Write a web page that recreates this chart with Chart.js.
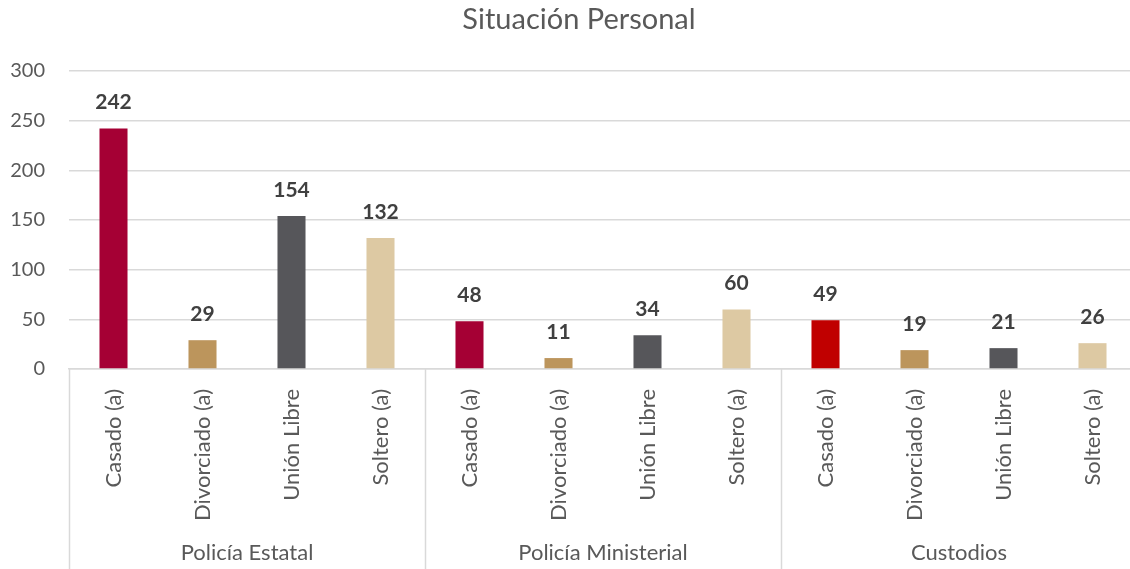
<!DOCTYPE html>
<html>
<head>
<meta charset="utf-8">
<script src="https://cdn.jsdelivr.net/npm/chart.js@4/dist/chart.umd.min.js"></script>
<style>
  html, body { margin: 0; padding: 0; background: #fff; overflow: hidden; }
  #wrap { position: absolute; left: 0; top: 0; width: 1137px; height: 569px; }
</style>
</head>
<body>
<div id="wrap"><canvas id="barChart" width="1137" height="569"></canvas></div>
<script>
const titulo = "Situación Personal"
const grupos = ["Policía Estatal", "Policía Ministerial", "Custodios"]
const estados = ["Casado (a)", "Divorciado (a)", "Unión Libre", "Soltero (a)"]
const estatal = [242, 29, 154, 132]
const ministerial = [48, 11, 34, 60]
const custodios = [49, 19, 21, 26]
const yTicks = [0, 50, 100, 150, 200, 250, 300]

const coloresEstatal = ["#A50034", "#BC955C", "#56565A", "#DDC9A3"]
const coloresCustodios = ["#C00000", "#BC955C", "#56565A", "#DDC9A3"]

const labels = [].concat(estados, estados, estados)
const valores = [].concat(estatal, ministerial, custodios)
const colores = [].concat(coloresEstatal, coloresEstatal, coloresCustodios)

const fuente = "Lato, 'Open Sans', sans-serif"
const gris = "#595959"
const lineaGris = "#d9d9d9"

// etiquetas encima de cada barra
const valoresPlugin = {
    id: "valores",
    afterDatasetsDraw(chart) {
        const ctx = chart.ctx
        const meta = chart.getDatasetMeta(0)
        ctx.save()
        ctx.font = "bold 21px " + fuente
        ctx.fillStyle = "#404040"
        ctx.textAlign = "center"
        ctx.textBaseline = "middle"
        meta.data.forEach((bar, i) => {
            ctx.fillText(valores[i], bar.x, bar.y - 26)
        })
        ctx.restore()
    }
}

// título, separadores y nombres de grupo
const gruposPlugin = {
    id: "grupos",
    afterDraw(chart) {
        const ctx = chart.ctx
        const x = chart.scales.x
        const area = chart.chartArea
        const n = estados.length
        const ancho = (x.right - x.left) / labels.length
        ctx.save()
        ctx.strokeStyle = lineaGris
        ctx.lineWidth = 1.5
        for (let g = 0; g <= grupos.length; g++) {
            const px = Math.round(x.left + g * n * ancho) + 0.5
            ctx.beginPath()
            ctx.moveTo(px, area.bottom)
            ctx.lineTo(px, chart.height)
            ctx.stroke()
        }
        ctx.font = "22px " + fuente
        ctx.fillStyle = gris
        ctx.textAlign = "center"
        ctx.textBaseline = "middle"
        grupos.forEach((g, i) => {
            const cx = x.left + (i * n + n / 2) * ancho
            ctx.fillText(g, cx, 553)
        })
        ctx.font = "29px " + fuente
        ctx.fillText(titulo, 579, 20)
        ctx.restore()
    }
}

const ctxBarChart = document.getElementById("barChart").getContext("2d")

var myBarChart = new Chart(ctxBarChart, {
    type: "bar",
    data: {
        labels: labels,
        datasets: [{
            data: valores,
            backgroundColor: colores,
            barPercentage: 0.315,
            categoryPercentage: 1
        }]
    },
    options: {
        responsive: false,
        animation: false,
        layout: { padding: { top: 71, right: 0, left: 0, bottom: 0 } },
        plugins: {
            legend: { display: false },
            tooltip: { enabled: false },
            title: { display: false }
        },
        scales: {
            x: {
                grid: { display: false },
                border: { display: true, color: lineaGris, width: 1.5 },
                ticks: {
                    color: gris,
                    font: { size: 22, family: fuente },
                    maxRotation: 90,
                    minRotation: 90,
                    autoSkip: false,
                    padding: 12
                },
                afterFit(scale) { scale.height = 200 }
            },
            y: {
                min: 0,
                max: 300,
                grid: { color: lineaGris, lineWidth: 1.5, drawTicks: false },
                border: { display: false },
                ticks: {
                    stepSize: 50,
                    color: gris,
                    font: { size: 20, family: fuente },
                    padding: 24,
                    callback: (v) => yTicks.includes(v) ? v : ""
                },
                afterFit(scale) { scale.width = 69 }
            }
        }
    },
    plugins: [valoresPlugin, gruposPlugin]
});
</script>
</body>
</html>
